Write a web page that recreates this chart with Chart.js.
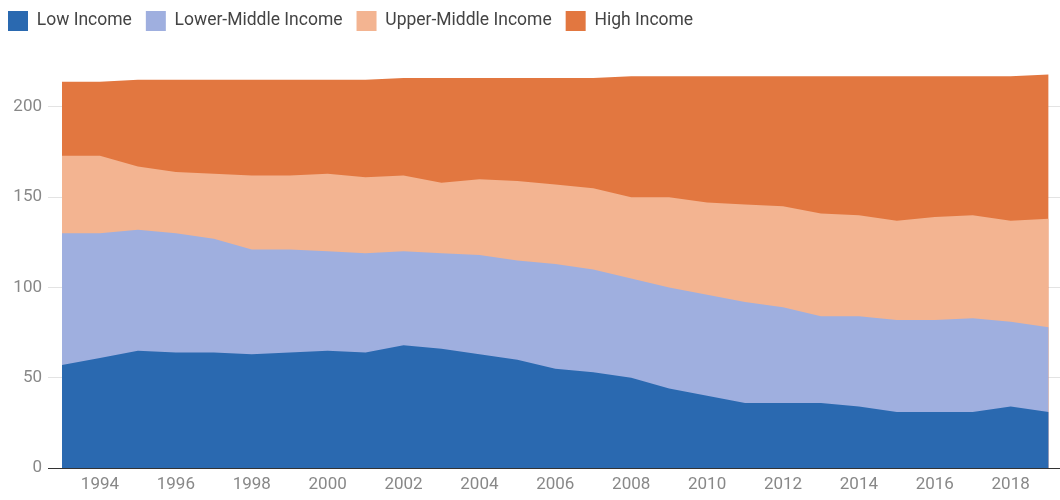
<!DOCTYPE html>
<html lang="en">

<head>
    <meta charset="UTF-8">
    <title>Countries by income group</title>
    <style>
        body { margin: 0; background: #fff; }
        .wrap { position: relative; width: 1060px; height: 500px; }
    </style>
</head>

<body>
    <div class="wrap">
        <canvas id="myChart"></canvas>
    </div>

    <script src="https://cdn.jsdelivr.net/npm/chart.js@4/dist/chart.umd.min.js"></script>
    <script>
        // number of countries in each income group, per year
        var years = [1993, 1994, 1995, 1996, 1997, 1998, 1999, 2000, 2001, 2002, 2003, 2004, 2005, 2006,
            2007, 2008, 2009, 2010, 2011, 2012, 2013, 2014, 2015, 2016, 2017, 2018, 2019];
        var low_income = [57, 61, 65, 64, 64, 63, 64, 65, 64, 68, 66, 63, 60, 55,
            53, 50, 44, 40, 36, 36, 36, 34, 31, 31, 31, 34, 31];
        var lower_middle = [73, 69, 67, 66, 63, 58, 57, 55, 55, 52, 53, 55, 55, 58,
            57, 55, 56, 56, 56, 53, 48, 50, 51, 51, 52, 47, 47];
        var upper_middle = [43, 43, 35, 34, 36, 41, 41, 43, 42, 42, 39, 42, 44, 44,
            45, 45, 50, 51, 54, 56, 57, 56, 55, 57, 57, 56, 60];
        var high_income = [41, 41, 48, 51, 52, 53, 53, 52, 54, 54, 58, 56, 57, 59,
            61, 67, 67, 70, 71, 72, 76, 77, 80, 78, 77, 80, 80];
        var y_ticks = [0, 50, 100, 150, 200];

        var groups = [
            { label: 'Low Income', values: low_income, color: '#2a69b0' },
            { label: 'Lower-Middle Income', values: lower_middle, color: '#9fafdf' },
            { label: 'Upper-Middle Income', values: upper_middle, color: '#f3b491' },
            { label: 'High Income', values: high_income, color: '#e27740' }
        ];

        let datasets = groups.map(g => {
            return {
                label: g.label,
                data: years.map((yr, i) => ({ x: yr, y: g.values[i] })),
                backgroundColor: g.color,
                borderColor: g.color,
                borderWidth: 0,
                pointRadius: 0,
                fill: 'origin',
                tension: 0
            }
        });

        // push the plot down a bit below the legend
        const legendSpacer = {
            id: 'legendSpacer',
            beforeInit(chart) {
                const fit = chart.legend.fit;
                chart.legend.fit = function () {
                    fit.call(this);
                    this.height = 63;
                };
            }
        };

        Chart.defaults.font.family = 'Roboto, sans-serif';

        var ctx = document.getElementById('myChart');
        var myChart = new Chart(ctx, {
            type: 'line',
            data: { datasets: datasets },
            plugins: [legendSpacer],
            options: {
                responsive: true,
                maintainAspectRatio: false,
                animation: false,
                layout: { padding: { top: -3, left: -6, right: 0, bottom: 0 } },
                plugins: {
                    tooltip: { enabled: false },
                    legend: {
                        position: 'top',
                        align: 'start',
                        labels: {
                            boxWidth: 20,
                            boxHeight: 20,
                            padding: 14,
                            color: '#444',
                            font: { size: 17.5 }
                        }
                    }
                },
                scales: {
                    x: {
                        type: 'linear',
                        min: 1993,
                        max: 2019.3,
                        grid: { display: false, drawTicks: false },
                        border: { display: true, color: '#333', width: 1 },
                        afterBuildTicks: scale => {
                            scale.ticks = years.filter(yr => yr % 2 === 0).map(yr => ({ value: yr }));
                        },
                        afterFit: scale => { scale.height = 32; },
                        ticks: {
                            padding: 7,
                            color: '#888',
                            font: { size: 17 },
                            maxRotation: 0,
                            autoSkip: false,
                            callback: v => String(v)
                        }
                    },
                    y: {
                        stacked: true,
                        min: 0,
                        max: 226,
                        border: { display: false },
                        grid: {
                            color: ctx => ctx.tick && ctx.tick.value === 0 ? '#333' : '#e3e3e3',
                            tickLength: 14
                        },
                        afterBuildTicks: scale => {
                            scale.ticks = y_ticks.map(v => ({ value: v }));
                        },
                        afterFit: scale => { scale.width = 68; },
                        ticks: {
                            padding: 6,
                            color: '#888',
                            font: { size: 17 }
                        }
                    }
                }
            }
        });
    </script>
</body>

</html>
